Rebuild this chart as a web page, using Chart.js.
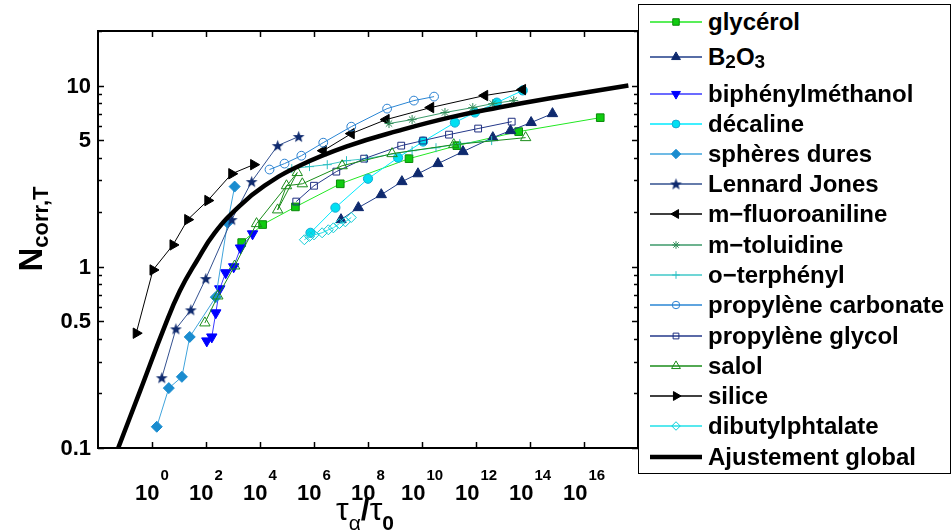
<!DOCTYPE html>
<html>
<head>
<meta charset="utf-8">
<script src="https://cdn.jsdelivr.net/npm/chart.js@4"></script>
<style>
  html, body { margin: 0; padding: 0; background: #fff; }
  #wrap { position: relative; width: 952px; height: 532px; }
  #legend {
    position: absolute; left: 638px; top: 4px; width: 313px; height: 470px;
    box-sizing: border-box; border: 1px solid #000; background: #fff;
    font: bold 24px "Liberation Sans", Arial, sans-serif; color: #000;
  }
  #legend .sample { position: absolute; left: 11px; width: 52px; height: 30px; }
  #legend .txt { position: absolute; left: 69px; height: 30px; line-height: 30px; white-space: nowrap; }
  #legend sub { font-size: 19px; position: relative; top: 3px; vertical-align: baseline; }
</style>
</head>
<body>
<div id="wrap">
  <canvas id="chart" width="952" height="532"></canvas>
  <div id="legend"></div>
</div>
<script>
// === data (x = tau_alpha/tau_0, y = N_corr,T) ===
const glycerolX = [2.1e3, 1.25e4, 2.05e5, 9.4e6, 3.3e9, 1.95e11, 3.8e13, 4e16];
const glycerolY = [1.36, 1.71, 2.14, 2.87, 3.95, 4.66, 5.57, 6.65];

const b2o3X = [1.0e7, 4.4e7, 3.1e8, 1.8e9, 7.1e9, 3.9e10, 3.3e11, 4.2e12, 1.9e13, 1.1e14, 6.8e14];
const b2o3Y = [1.82, 2.12, 2.50, 2.95, 3.26, 3.71, 4.32, 5.16, 5.64, 6.25, 7.0];

const biphX = [107, 164, 230, 323, 537, 1060, 1900, 5300];
const biphY = [0.39, 0.41, 0.557, 0.756, 0.927, 1.0, 1.27, 1.52];

const decalineX = [7.4e5, 6.2e6, 1.0e8, 1.3e9, 1.1e10, 1.65e11, 9.1e11, 5.9e12, 5.4e13];
const decalineY = [1.54, 2.12, 3.06, 4.0, 4.91, 6.25, 7.1, 8.05, 9.4];

const spheresX = [1.5, 4.2, 12.8, 25, 230, 630, 1150];
const spheresY = [0.131, 0.214, 0.247, 0.41, 0.68, 1.75, 2.77];

const ljX = [2.3, 7.7, 27.5, 98, 900, 4900, 4.5e4, 2.7e5];
const ljY = [0.244, 0.454, 0.578, 0.86, 1.82, 2.95, 4.66, 5.23];

const fluoroX = [2.2e6, 2.4e7, 4.7e8, 2.1e10, 2.1e12, 5.3e13];
const fluoroY = [4.37, 5.43, 6.49, 7.56, 8.81, 9.5];

const toluidineX = [6e8, 4.3e9, 7.1e10, 7.6e11, 4.2e12, 2.5e13];
const toluidineY = [6.17, 6.49, 7.1, 7.56, 7.95, 8.26];

const otpX = [1.5e5, 6.8e5, 3.1e6, 1.6e7, 8.6e7, 4.3e9, 3.3e10, 2.5e11, 3.8e12];
const otpY = [3.48, 3.57, 3.66, 3.85, 3.95, 4.37, 4.54, 4.78, 4.97];

const pcX = [2.25e4, 8.1e4, 3.4e5, 2.2e6, 2.4e7, 5.1e8, 5e9, 2.8e10];
const pcY = [3.44, 3.71, 4.10, 4.84, 5.93, 7.46, 8.26, 8.69];

const pgX = [2.2e5, 1.0e6, 6.7e6, 7.2e7, 1.7e9, 1.1e10, 1e11, 1.2e12, 2.1e13];
const pgY = [2.29, 2.80, 3.35, 3.95, 4.66, 4.97, 5.36, 5.79, 6.32];

const salolX = [91, 274, 1150, 7450, 2.4e5, 4.5e4, 9.6e4, 3.7e5, 1.1e7, 7.8e8, 1.5e11, 6.9e13];
const salolY = [0.49, 0.69, 1.01, 1.73, 3.31, 2.06, 2.80, 2.87, 3.61, 4.21, 4.72, 5.16];

const siliceX = [0.26, 1.09, 6.0, 21, 117, 900, 5800];
const siliceY = [0.43, 0.96, 1.32, 1.82, 2.32, 3.26, 3.66];

const dbpX = [4.4e5, 6.8e5, 1.0e6, 2.0e6, 3.4e6, 5.2e6, 8.7e6, 1.45e7, 2.4e7];
const dbpY = [1.41, 1.47, 1.50, 1.54, 1.60, 1.64, 1.73, 1.77, 1.87];

const fitX = [0.056, 0.36, 3.0, 10.8, 46, 210, 1770, 1.48e4, 2.9e5, 2.0e7, 1.4e9, 1e11, 6.9e12, 4.9e14, 4.4e17];
const fitY = [0.1, 0.206, 0.472, 0.737, 1.08, 1.54, 2.17, 2.80, 3.61, 4.66, 5.64, 6.65, 7.56, 8.48, 10];

// axis ticks
const xTickExps = [0, 2, 4, 6, 8, 10, 12, 14, 16];
const yTickLabels = [0.1, 0.5, 1, 5, 10];
const yMinorTicks = [0.2, 0.3, 0.4, 0.6, 0.7, 0.8, 0.9, 2, 3, 4, 6, 7, 8, 9, 20];

// five-pointed star marker (Lennard Jones)
function starImage(color, size) {
  const c = document.createElement('canvas');
  c.width = c.height = size;
  const g = c.getContext('2d');
  const cx = size / 2, cy = size / 2 + 0.5, R = size / 2 - 0.3, r = R * 0.42;
  g.beginPath();
  for (let i = 0; i < 10; i++) {
    const a = -Math.PI / 2 + i * Math.PI / 5;
    const rr = i % 2 ? r : R;
    g.lineTo(cx + rr * Math.cos(a), cy + rr * Math.sin(a));
  }
  g.closePath();
  g.fillStyle = color;
  g.fill();
  return c;
}

const NONE = 'rgba(0,0,0,0)';
const series = [
  { label: 'glycérol', xs: glycerolX, ys: glycerolY, line: '#22e822', fill: '#10cc10', edge: '#0b8a0b', style: 'rect', r: 5.4 },
  { label: 'B<sub>2</sub>O<sub>3</sub>', xs: b2o3X, ys: b2o3Y, line: '#1f3c88', fill: '#0f2a6e', edge: '#0f2a6e', style: 'triangle', r: 6 },
  { label: 'biphénylméthanol', xs: biphX, ys: biphY, line: '#3a3aff', fill: '#0000ff', edge: '#0000ff', style: 'triangle', rot: 180, r: 6 },
  { label: 'décaline', xs: decalineX, ys: decalineY, line: '#00eaff', fill: '#00e0f2', edge: '#1aa8d2', style: 'circle', r: 4.6 },
  { label: 'sphères dures', xs: spheresX, ys: spheresY, line: '#40a4dc', fill: '#1a8ccf', edge: '#1a8ccf', style: 'rectRot', r: 5.5 },
  { label: 'Lennard Jones', xs: ljX, ys: ljY, line: '#33508f', fill: '#0f2a6e', edge: '#0f2a6e', style: starImage('#0f2a6e', 13) },
  { label: 'm\u2212fluoroaniline', xs: fluoroX, ys: fluoroY, line: '#000', fill: '#000', edge: '#000', style: 'triangle', rot: -90, r: 6 },
  { label: 'm\u2212toluidine', xs: toluidineX, ys: toluidineY, line: '#3c9a6a', fill: NONE, edge: '#2e8b57', style: 'star', r: 4.5 },
  { label: 'o\u2212terphényl', xs: otpX, ys: otpY, line: '#40c8c8', fill: NONE, edge: '#2ec0c4', style: 'cross', r: 4.5 },
  { label: 'propylène carbonate', xs: pcX, ys: pcY, line: '#2a86d4', fill: NONE, edge: '#2a80d0', style: 'circle', r: 4.4 },
  { label: 'propylène glycol', xs: pgX, ys: pgY, line: '#24388a', fill: NONE, edge: '#1f2f80', style: 'rect', r: 4.8 },
  { label: 'salol', xs: salolX, ys: salolY, line: '#1a8c1a', fill: NONE, edge: '#1a8c1a', style: 'triangle', r: 6 },
  { label: 'silice', xs: siliceX, ys: siliceY, line: '#000', fill: '#000', edge: '#000', style: 'triangle', rot: 90, r: 6 },
  { label: 'dibutylphtalate', xs: dbpX, ys: dbpY, line: '#20e0e8', fill: NONE, edge: '#10ccd6', style: 'rectRot', r: 5 }
];

const datasets = series.map((s, i) => ({
  label: s.label,
  data: s.xs.map((x, k) => ({ x, y: s.ys[k] })),
  showLine: true,
  borderColor: s.line,
  borderWidth: 1,
  pointStyle: s.style,
  pointRotation: s.rot || 0,
  pointRadius: s.r || 5,
  pointBackgroundColor: s.fill,
  pointBorderColor: s.edge,
  pointBorderWidth: 1,
  order: -i
}));

datasets.push({
  label: 'Ajustement global',
  data: fitX.map((x, k) => ({ x, y: fitY[k] })),
  showLine: true,
  borderColor: '#000',
  borderWidth: 4.5,
  pointRadius: 0,
  tension: 0.45,
  order: -20
});

const FONT = '"Liberation Sans", Arial, sans-serif';

// box, inward ticks, tick labels with superscripts, axis titles
const axisDeco = {
  id: 'axisDeco',
  afterDraw(chart) {
    const { ctx, chartArea: a, scales: { x, y } } = chart;
    ctx.save();
    ctx.strokeStyle = '#000';
    ctx.fillStyle = '#000';
    ctx.lineWidth = 1.5;
    const seg = (x1, y1, x2, y2) => { ctx.beginPath(); ctx.moveTo(x1, y1); ctx.lineTo(x2, y2); ctx.stroke(); };

    xTickExps.forEach(e => {
      const px = Math.round(x.getPixelForValue(Math.pow(10, e))) + 0.5;
      seg(px, a.bottom, px, a.bottom - 6);
      seg(px, a.top, px, a.top + 6);
    });
    yTickLabels.forEach(v => {
      const py = Math.round(y.getPixelForValue(v)) + 0.5;
      seg(a.left, py, a.left + 6, py);
      seg(a.right, py, a.right - 6, py);
    });
    yMinorTicks.forEach(v => {
      const py = Math.round(y.getPixelForValue(v)) + 0.5;
      seg(a.left, py, a.left + 4, py);
      seg(a.right, py, a.right - 4, py);
    });

    ctx.lineWidth = 2;
    ctx.strokeRect(a.left, a.top, a.right - a.left, a.bottom - a.top);

    // x tick labels 10^e
    ctx.textBaseline = 'alphabetic';
    ctx.textAlign = 'left';
    xTickExps.forEach(e => {
      const px = x.getPixelForValue(Math.pow(10, e));
      ctx.font = 'bold 22px ' + FONT;
      const wb = ctx.measureText('10').width;
      ctx.font = 'bold 15px ' + FONT;
      const ws = ctx.measureText(String(e)).width;
      const x0 = px - (wb + 1 + ws) / 2;
      ctx.font = 'bold 22px ' + FONT;
      ctx.fillText('10', x0, 500);
      ctx.font = 'bold 15px ' + FONT;
      ctx.fillText(String(e), x0 + wb + 1, 480);
    });

    // y tick labels
    ctx.font = 'bold 22px ' + FONT;
    ctx.textAlign = 'right';
    ctx.textBaseline = 'middle';
    yTickLabels.forEach(v => {
      ctx.fillText(String(v), a.left - 7, y.getPixelForValue(v) + 1);
    });

    // x title: tau_alpha / tau_0
    ctx.textAlign = 'left';
    ctx.textBaseline = 'alphabetic';
    let cx = 336;
    ctx.font = '32px ' + FONT;
    ctx.fillText('\u03c4', cx, 520); cx += ctx.measureText('\u03c4').width;
    ctx.font = '21px ' + FONT;
    ctx.fillText('\u03b1', cx, 530); cx += ctx.measureText('\u03b1').width;
    ctx.font = 'bold 32px ' + FONT;
    ctx.fillText('/', cx, 520); cx += ctx.measureText('/').width;
    ctx.font = '32px ' + FONT;
    ctx.fillText('\u03c4', cx, 520); cx += ctx.measureText('\u03c4').width;
    ctx.font = 'bold 21px ' + FONT;
    ctx.fillText('0', cx, 530);

    // y title: N_corr,T
    ctx.translate(42, 229);
    ctx.rotate(-Math.PI / 2);
    ctx.font = 'bold 33px ' + FONT;
    const wN = ctx.measureText('N').width;
    ctx.font = 'bold 22px ' + FONT;
    const wS = ctx.measureText('corr,T').width;
    const sx = -(wN + wS) / 2;
    ctx.font = 'bold 33px ' + FONT;
    ctx.fillText('N', sx, 0);
    ctx.font = 'bold 22px ' + FONT;
    ctx.fillText('corr,T', sx + wN, 6);
    ctx.restore();
  }
};

new Chart(document.getElementById('chart'), {
  type: 'scatter',
  data: { datasets },
  options: {
    responsive: false,
    animation: false,
    layout: { padding: { left: 98, top: 31, right: 952 - 638, bottom: 532 - 448 } },
    plugins: { legend: { display: false }, tooltip: { enabled: false } },
    scales: {
      x: { type: 'logarithmic', min: 1e-2, max: 1e18, display: false },
      y: { type: 'logarithmic', min: 0.1, max: 20, display: false }
    }
  },
  plugins: [axisDeco]
});

// HTML legend (markers drawn with Chart.js's own point helper)
const legend = document.getElementById('legend');
const rowCenters = [22, 57, 94, 124, 154, 184, 214, 245, 275, 305, 336, 366, 396, 426, 457];
const legendItems = series.concat([{ label: 'Ajustement global', fit: true }]);
legendItems.forEach((s, i) => {
  const top = rowCenters[i] - 5 - 15;
  const cv = document.createElement('canvas');
  cv.width = 52; cv.height = 30;
  cv.className = 'sample';
  cv.style.top = top + 'px';
  legend.appendChild(cv);
  const g = cv.getContext('2d');
  g.beginPath(); g.moveTo(0, 15); g.lineTo(52, 15);
  g.strokeStyle = s.fit ? '#000' : s.line;
  g.lineWidth = s.fit ? 4.5 : 1.5;
  g.stroke();
  if (!s.fit) {
    g.fillStyle = s.fill; g.strokeStyle = s.edge; g.lineWidth = 1;
    Chart.helpers.drawPoint(g, { pointStyle: s.style, rotation: s.rot || 0, radius: (s.r || 5) * 0.85, borderWidth: 1 }, 26, 15);
  }
  const t = document.createElement('div');
  t.className = 'txt';
  t.style.top = top + 'px';
  t.innerHTML = s.label;
  legend.appendChild(t);
});
</script>
</body>
</html>
